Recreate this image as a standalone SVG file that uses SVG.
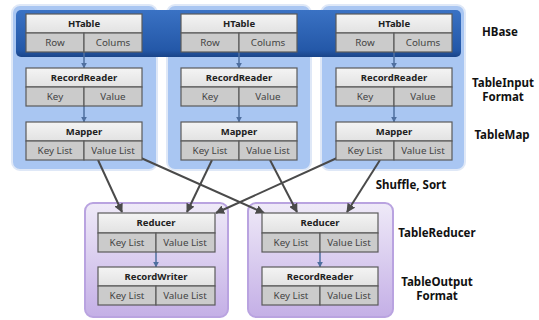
<svg xmlns="http://www.w3.org/2000/svg" width="539" height="320" viewBox="0 0 539 320">
  <defs>
    <linearGradient id="bandGrad" x1="0" y1="0" x2="0" y2="1">
      <stop offset="0" stop-color="#3a72c4"/>
      <stop offset="0.85" stop-color="#2458a8"/>
      <stop offset="1" stop-color="#1a4488"/>
    </linearGradient>
    <linearGradient id="purpleGrad" x1="0" y1="0" x2="0" y2="1">
      <stop offset="0" stop-color="#efeaf8"/>
      <stop offset="1" stop-color="#c4afe6"/>
    </linearGradient>
    <linearGradient id="headGrad" x1="0" y1="0" x2="0" y2="1">
      <stop offset="0" stop-color="#f4f4f4"/>
      <stop offset="1" stop-color="#e2e2e2"/>
    </linearGradient>
    <marker id="arrow" viewBox="0 0 10 10" refX="9" refY="5" markerWidth="4.5" markerHeight="4.5" orient="auto">
      <path d="M0,0 L10,5 L0,10 z" fill="#4a4a4a"/>
    </marker>
    <marker id="arrowSmall" viewBox="0 0 10 10" refX="9" refY="5" markerWidth="4" markerHeight="4" orient="auto">
      <path d="M0,0 L10,5 L0,10 z" fill="#4f6f9f"/>
    </marker>
  </defs>
  <style>
    .panel { fill: #a9c6f2; stroke: #dfe8f7; stroke-width: 2; }
    .ppanel { fill: url(#purpleGrad); stroke: #b9a3e0; stroke-width: 2; }
    .head { fill: url(#headGrad); stroke: #5a5a5a; stroke-width: 1.2; }
    .cell { fill: #cbcbcb; stroke: #5a5a5a; stroke-width: 1.2; }
    .t { font-family: "Noto Sans", "Liberation Sans", sans-serif; font-size: 9.8px; fill: #444; text-anchor: middle; }
    .tb { font-family: "Noto Sans", "Liberation Sans", sans-serif; font-size: 9.5px; font-weight: bold; fill: #222; text-anchor: middle; }
    .lbl { font-family: "Noto Sans", "Liberation Sans", sans-serif; font-size: 11.5px; font-weight: bold; fill: #111; text-anchor: middle; }
    .flow { stroke: #4a4a4a; stroke-width: 2; fill: none; marker-end: url(#arrow); }
    .link { stroke: #4f6f9f; stroke-width: 1.5; fill: none; marker-end: url(#arrowSmall); }
  </style>

  <rect width="539" height="320" fill="#ffffff"/>

  <!-- map-side panels and HBase band -->
  <g id="map-panels">
    <rect class="panel" x="12" y="5" width="145" height="165" rx="8"/>
    <rect class="panel" x="167" y="5" width="144" height="165" rx="8"/>
    <rect class="panel" x="321" y="5" width="144" height="165" rx="8"/>
    <rect x="16" y="10" width="445" height="47" rx="5" fill="url(#bandGrad)"/>
  </g>

  <!-- reduce-side panels -->
  <g id="reduce-panels">
    <rect class="ppanel" x="85" y="203" width="143" height="114" rx="8"/>
    <rect class="ppanel" x="248" y="203" width="145" height="114" rx="8"/>
  </g>

  <!-- connectors -->
  <g id="connectors">
    <line class="link" x1="84" y1="52" x2="84" y2="68"/>
    <line class="link" x1="84" y1="106" x2="84" y2="122"/>
    <line class="link" x1="239" y1="52" x2="239" y2="68"/>
    <line class="link" x1="239" y1="106" x2="239" y2="122"/>
    <line class="link" x1="394" y1="52" x2="394" y2="68"/>
    <line class="link" x1="394" y1="106" x2="394" y2="122"/>
    <line class="link" x1="156" y1="252" x2="156" y2="267"/>
    <line class="link" x1="320" y1="252" x2="320" y2="267"/>

    <line class="flow" x1="98" y1="160" x2="122" y2="212"/>
    <line class="flow" x1="141" y1="158" x2="264" y2="213"/>
    <line class="flow" x1="212" y1="160" x2="187" y2="212"/>
    <line class="flow" x1="270" y1="160" x2="297" y2="212"/>
    <line class="flow" x1="337" y1="158" x2="216" y2="213"/>
    <line class="flow" x1="380" y1="160" x2="347" y2="212"/>
  </g>

  <!-- column 1 -->
  <g id="htable-1">
    <rect class="head" x="26" y="14" width="116" height="19"/>
    <rect class="cell" x="26" y="33" width="58" height="19"/>
    <rect class="cell" x="84" y="33" width="58" height="19"/>
    <text class="tb" x="84" y="27">HTable</text>
    <text class="t" x="55" y="46">Row</text>
    <text class="t" x="113" y="46">Colums</text>
  </g>
  <g id="recordreader-1">
    <rect class="head" x="26" y="68" width="116" height="19"/>
    <rect class="cell" x="26" y="87" width="58" height="19"/>
    <rect class="cell" x="84" y="87" width="58" height="19"/>
    <text class="tb" x="84" y="81">RecordReader</text>
    <text class="t" x="55" y="100">Key</text>
    <text class="t" x="113" y="100">Value</text>
  </g>
  <g id="mapper-1">
    <rect class="head" x="26" y="122" width="116" height="19"/>
    <rect class="cell" x="26" y="141" width="58" height="19"/>
    <rect class="cell" x="84" y="141" width="58" height="19"/>
    <text class="tb" x="84" y="135">Mapper</text>
    <text class="t" x="55" y="154">Key List</text>
    <text class="t" x="113" y="154">Value List</text>
  </g>

  <!-- column 2 -->
  <g id="htable-2">
    <rect class="head" x="181" y="14" width="116" height="19"/>
    <rect class="cell" x="181" y="33" width="58" height="19"/>
    <rect class="cell" x="239" y="33" width="58" height="19"/>
    <text class="tb" x="239" y="27">HTable</text>
    <text class="t" x="210" y="46">Row</text>
    <text class="t" x="268" y="46">Colums</text>
  </g>
  <g id="recordreader-2">
    <rect class="head" x="181" y="68" width="116" height="19"/>
    <rect class="cell" x="181" y="87" width="58" height="19"/>
    <rect class="cell" x="239" y="87" width="58" height="19"/>
    <text class="tb" x="239" y="81">RecordReader</text>
    <text class="t" x="210" y="100">Key</text>
    <text class="t" x="268" y="100">Value</text>
  </g>
  <g id="mapper-2">
    <rect class="head" x="181" y="122" width="116" height="19"/>
    <rect class="cell" x="181" y="141" width="58" height="19"/>
    <rect class="cell" x="239" y="141" width="58" height="19"/>
    <text class="tb" x="239" y="135">Mapper</text>
    <text class="t" x="210" y="154">Key List</text>
    <text class="t" x="268" y="154">Value List</text>
  </g>

  <!-- column 3 -->
  <g id="htable-3">
    <rect class="head" x="336" y="14" width="116" height="19"/>
    <rect class="cell" x="336" y="33" width="58" height="19"/>
    <rect class="cell" x="394" y="33" width="58" height="19"/>
    <text class="tb" x="394" y="27">HTable</text>
    <text class="t" x="365" y="46">Row</text>
    <text class="t" x="423" y="46">Colums</text>
  </g>
  <g id="recordreader-3">
    <rect class="head" x="336" y="68" width="116" height="19"/>
    <rect class="cell" x="336" y="87" width="58" height="19"/>
    <rect class="cell" x="394" y="87" width="58" height="19"/>
    <text class="tb" x="394" y="81">RecordReader</text>
    <text class="t" x="365" y="100">Key</text>
    <text class="t" x="423" y="100">Value</text>
  </g>
  <g id="mapper-3">
    <rect class="head" x="336" y="122" width="116" height="19"/>
    <rect class="cell" x="336" y="141" width="58" height="19"/>
    <rect class="cell" x="394" y="141" width="58" height="19"/>
    <text class="tb" x="394" y="135">Mapper</text>
    <text class="t" x="365" y="154">Key List</text>
    <text class="t" x="423" y="154">Value List</text>
  </g>

  <!-- reduce side -->
  <g id="reducer-1">
    <rect class="head" x="98" y="213" width="117" height="20"/>
    <rect class="cell" x="98" y="233" width="58" height="19"/>
    <rect class="cell" x="156" y="233" width="59" height="19"/>
    <text class="tb" x="156" y="226">Reducer</text>
    <text class="t" x="127" y="246">Key List</text>
    <text class="t" x="185" y="246">Value List</text>
  </g>
  <g id="recordwriter-1">
    <rect class="head" x="98" y="267" width="117" height="19"/>
    <rect class="cell" x="98" y="286" width="58" height="19"/>
    <rect class="cell" x="156" y="286" width="59" height="19"/>
    <text class="tb" x="156" y="280">RecordWriter</text>
    <text class="t" x="127" y="299">Key List</text>
    <text class="t" x="185" y="299">Value List</text>
  </g>
  <g id="reducer-2">
    <rect class="head" x="262" y="213" width="116" height="20"/>
    <rect class="cell" x="262" y="233" width="58" height="19"/>
    <rect class="cell" x="320" y="233" width="58" height="19"/>
    <text class="tb" x="320" y="226">Reducer</text>
    <text class="t" x="291" y="246">Key List</text>
    <text class="t" x="349" y="246">Value List</text>
  </g>
  <g id="recordreader-out">
    <rect class="head" x="262" y="267" width="116" height="19"/>
    <rect class="cell" x="262" y="286" width="58" height="19"/>
    <rect class="cell" x="320" y="286" width="58" height="19"/>
    <text class="tb" x="320" y="280">RecordReader</text>
    <text class="t" x="291" y="299">Key List</text>
    <text class="t" x="349" y="299">Value List</text>
  </g>

  <!-- stage labels -->
  <g id="labels">
    <text class="lbl" x="500" y="36">HBase</text>
    <text class="lbl" x="503" y="87">TableInput</text>
    <text class="lbl" x="503" y="101">Format</text>
    <text class="lbl" x="502" y="139">TableMap</text>
    <text class="lbl" x="411" y="189">Shuffle, Sort</text>
    <text class="lbl" x="437" y="237">TableReducer</text>
    <text class="lbl" x="437" y="286">TableOutput</text>
    <text class="lbl" x="437" y="300">Format</text>
  </g>
</svg>
